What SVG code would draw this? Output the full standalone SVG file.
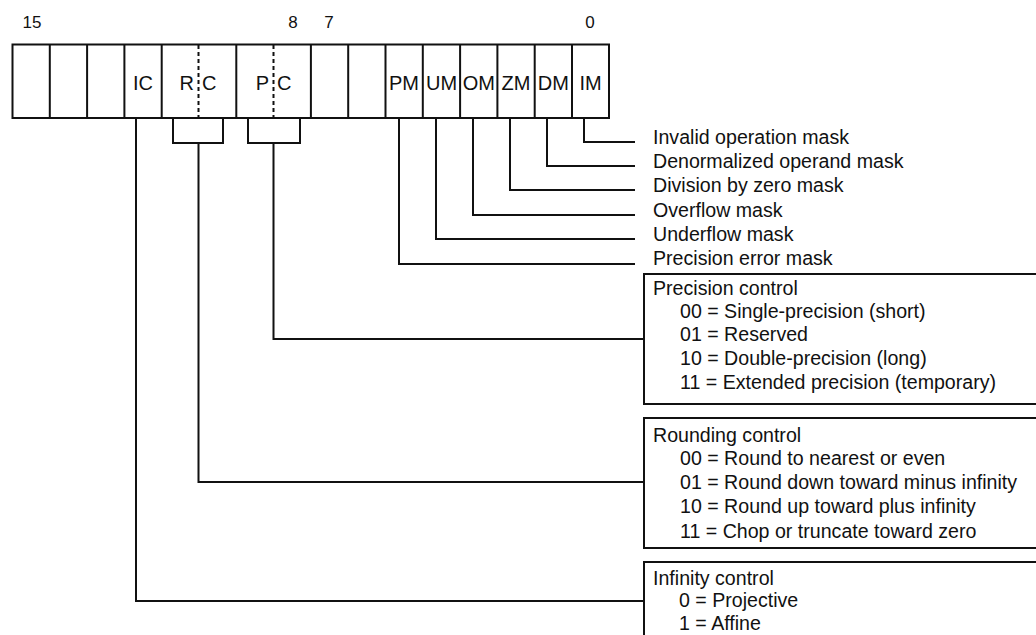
<svg xmlns="http://www.w3.org/2000/svg" width="1036" height="635" viewBox="0 0 1036 635">
<style>
  .ln { fill: none; stroke: #111; stroke-width: 2; }
  .dash { fill: none; stroke: #111; stroke-width: 2; stroke-dasharray: 4 3; }
  .t { font-family: "Liberation Sans", Arial, sans-serif; fill: #111; }
  .num { font-size: 17px; text-anchor: middle; }
  .cell { font-size: 20px; }
  .lab { font-size: 19.6px; }
</style>
<rect width="1036" height="635" fill="#fff"/>

<g id="bit-numbers" class="t num">
  <text x="32" y="28">15</text>
  <text x="293" y="28">8</text>
  <text x="329" y="28">7</text>
  <text x="590" y="28">0</text>
</g>

<g id="register">
  <rect class="ln" x="12.5" y="44.5" width="596.5" height="73.5"/>
  <path class="ln" d="M49.8 44.5V118 M87.1 44.5V118 M124.4 44.5V118 M161.7 44.5V118 M236.3 44.5V118 M310.9 44.5V118 M348.2 44.5V118 M385.5 44.5V118 M422.8 44.5V118 M460.1 44.5V118 M497.4 44.5V118 M534.7 44.5V118 M572 44.5V118"/>
  <path class="dash" d="M198.5 45V118 M273.5 45V118"/>
  <g class="t cell">
    <text x="143" y="90" text-anchor="middle">IC</text>
    <text x="194" y="90" text-anchor="end">R</text>
    <text x="202" y="90">C</text>
    <text x="269" y="90" text-anchor="end">P</text>
    <text x="277" y="90">C</text>
    <text x="404" y="90" text-anchor="middle">PM</text>
    <text x="441.5" y="90" text-anchor="middle">UM</text>
    <text x="478.8" y="90" text-anchor="middle">OM</text>
    <text x="516" y="90" text-anchor="middle">ZM</text>
    <text x="553.4" y="90" text-anchor="middle">DM</text>
    <text x="590.5" y="90" text-anchor="middle">IM</text>
  </g>
</g>

<g id="connectors" class="ln">
  <path d="M584 118V142H635"/>
  <path d="M547 118V166H635"/>
  <path d="M510 118V190H635"/>
  <path d="M473 118V215H635"/>
  <path d="M436 118V239H635"/>
  <path d="M399 118V264H635"/>
  <path d="M248 118V143H300V118 M273.5 143V339H644"/>
  <path d="M173 118V143H223V118 M198.5 143V482H644"/>
  <path d="M136 118V601H644"/>
</g>

<g id="mask-labels" class="t lab">
  <text x="653" y="144">Invalid operation mask</text>
  <text x="653" y="168">Denormalized operand mask</text>
  <text x="653" y="192">Division by zero mask</text>
  <text x="653" y="217">Overflow mask</text>
  <text x="653" y="241">Underflow mask</text>
  <text x="653" y="265">Precision error mask</text>
</g>

<g id="precision-control">
  <rect class="ln" x="644" y="274" width="400" height="130"/>
  <g class="t lab">
    <text x="653" y="295">Precision control</text>
    <text x="680" y="318">00 = Single-precision (short)</text>
    <text x="680" y="341">01 = Reserved</text>
    <text x="680" y="365">10 = Double-precision (long)</text>
    <text x="680" y="389">11 = Extended precision (temporary)</text>
  </g>
</g>

<g id="rounding-control">
  <rect class="ln" x="644" y="418" width="400" height="130"/>
  <g class="t lab">
    <text x="653" y="442">Rounding control</text>
    <text x="680" y="465">00 = Round to nearest or even</text>
    <text x="680" y="489">01 = Round down toward minus infinity</text>
    <text x="680" y="513">10 = Round up toward plus infinity</text>
    <text x="680" y="538">11 = Chop or truncate toward zero</text>
  </g>
</g>

<g id="infinity-control">
  <rect class="ln" x="644" y="562" width="400" height="90"/>
  <g class="t lab">
    <text x="653" y="585">Infinity control</text>
    <text x="679" y="607">0 = Projective</text>
    <text x="679" y="630">1 = Affine</text>
  </g>
</g>
</svg>
